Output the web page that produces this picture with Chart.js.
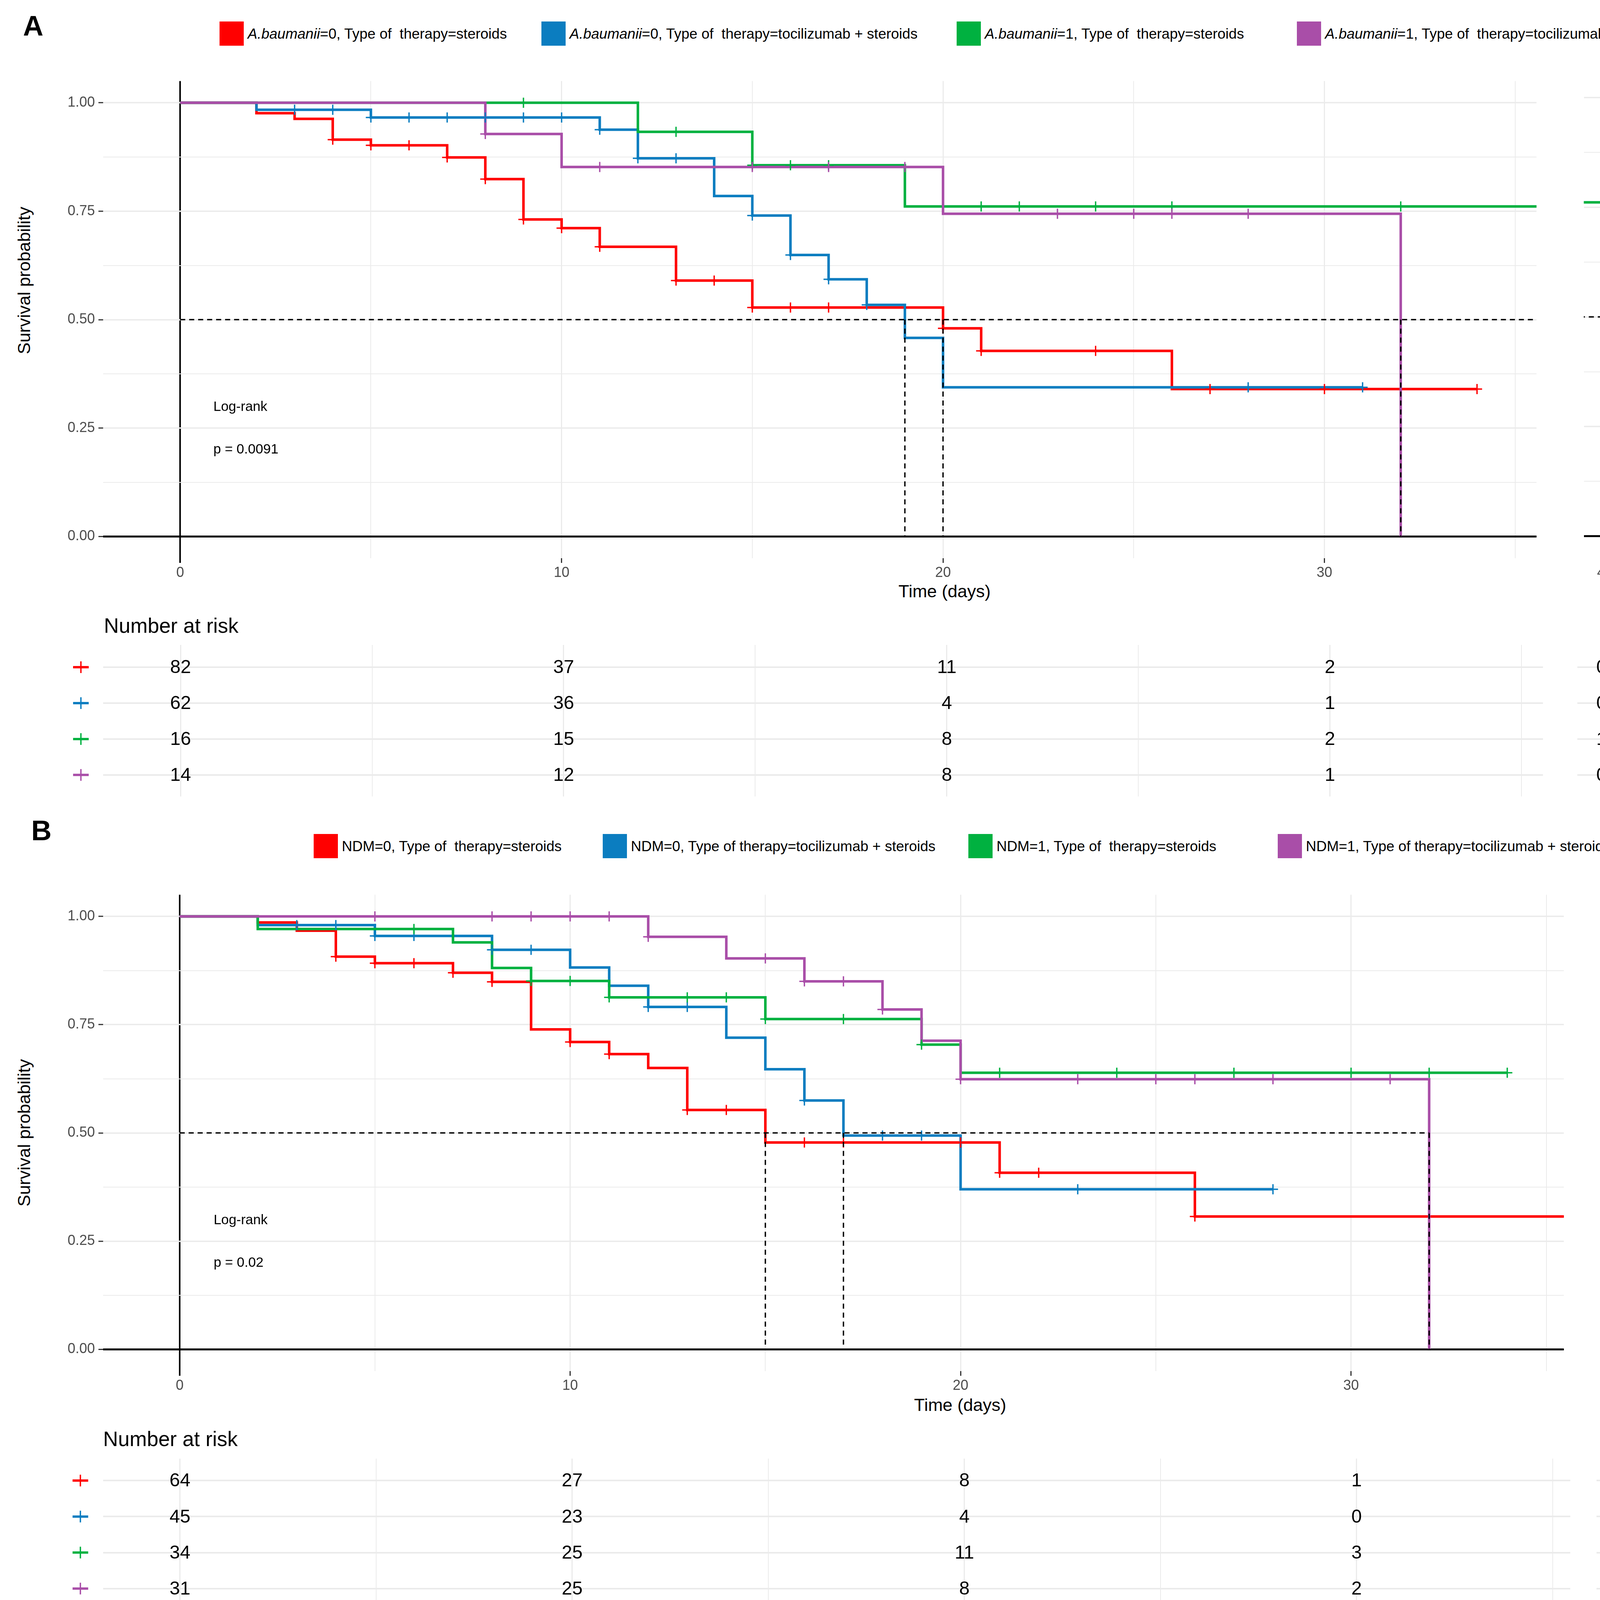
<!DOCTYPE html>
<html lang="en">
<head>
<meta charset="UTF-8">
<title>Kaplan-Meier survival curves</title>
<script src="https://cdn.jsdelivr.net/npm/chart.js"></script>
<style>
  body { margin: 0; background: #fff; width: 4342px; height: 4157px; position: relative; overflow: hidden;
         font-family: "Liberation Sans", Arial, sans-serif; color: #000; }
  canvas { position: absolute; }
  .t { position: absolute; white-space: pre; line-height: 1; transform: translateY(-50%); }
  .c { position: absolute; white-space: pre; line-height: 1; transform: translate(-50%, -50%); }
  .tag { font-size: 72px; font-weight: bold; }
  .key { position: absolute; width: 62px; height: 62px; }
  .lt { font-size: 37px; }
  .ytitle { font-size: 45px; transform: translate(-50%, -50%) rotate(-90deg); }
  .xtitle { font-size: 45px; }
  .risk { font-size: 53px; }
</style>
</head>
<body>
  <!-- panel A texts -->
  <div class="t tag" style="left:59px;top:66px">A</div>
  <div class="key" style="left:562px;top:55px;background:#ff0000"></div>
  <div class="t lt" style="left:634px;top:86px"><i>A.baumanii</i>=0, Type of  therapy=steroids</div>
  <div class="key" style="left:1386px;top:55px;background:#0b7dc0"></div>
  <div class="t lt" style="left:1458px;top:86px"><i>A.baumanii</i>=0, Type of  therapy=tocilizumab + steroids</div>
  <div class="key" style="left:2449px;top:55px;background:#00b140"></div>
  <div class="t lt" style="left:2521px;top:86px"><i>A.baumanii</i>=1, Type of  therapy=steroids</div>
  <div class="key" style="left:3320px;top:55px;background:#a94ea8"></div>
  <div class="t lt" style="left:3392px;top:86px"><i>A.baumanii</i>=1, Type of  therapy=tocilizumab + steroids</div>
  <div class="c ytitle" style="left:61px;top:718px">Survival probability</div>
  <div class="c xtitle" style="left:2418px;top:1513px">Time (days)</div>
  <div class="t risk" style="left:266px;top:1601px">Number at risk</div>

  <!-- panel B texts -->
  <div class="t tag" style="left:80px;top:2126px">B</div>
  <div class="key" style="left:803px;top:2135px;background:#ff0000"></div>
  <div class="t lt" style="left:875px;top:2166px">NDM=0, Type of  therapy=steroids</div>
  <div class="key" style="left:1543px;top:2135px;background:#0b7dc0"></div>
  <div class="t lt" style="left:1615px;top:2166px">NDM=0, Type of therapy=tocilizumab + steroids</div>
  <div class="key" style="left:2479px;top:2135px;background:#00b140"></div>
  <div class="t lt" style="left:2551px;top:2166px">NDM=1, Type of  therapy=steroids</div>
  <div class="key" style="left:3271px;top:2135px;background:#a94ea8"></div>
  <div class="t lt" style="left:3343px;top:2166px">NDM=1, Type of therapy=tocilizumab + steroids</div>
  <div class="c ytitle" style="left:61px;top:2900px">Survival probability</div>
  <div class="c xtitle" style="left:2458px;top:3596px">Time (days)</div>
  <div class="t risk" style="left:264px;top:3683px">Number at risk</div>

<script>
// axis ticks
const xGridTicks = [0, 5, 10, 15, 20, 25, 30, 35, 40];
const xLabelTicks = [0, 10, 20, 30, 40];
const yGridTicks = [0, 0.125, 0.25, 0.375, 0.5, 0.625, 0.75, 0.875, 1];
const yLabelTicks = [0, 0.25, 0.5, 0.75, 1];

const groupColors = ['#ff0000', '#0b7dc0', '#00b140', '#a94ea8'];

// Panel A: A.baumanii x therapy
const a0sTime = [0, 2, 3, 4, 5, 7, 8, 9, 10, 11, 13, 15, 20, 21, 26, 34];
const a0sSurv = [1, 0.976, 0.963, 0.915, 0.902, 0.874, 0.824, 0.731, 0.711, 0.668, 0.590, 0.528, 0.480, 0.428, 0.340, 0.340];
const a0sCens = [4, 5, 6, 7, 8, 9, 10, 11, 13, 14, 15, 16, 17, 20, 21, 24, 27, 30, 34];

const a0tTime = [0, 2, 5, 11, 12, 14, 15, 16, 17, 18, 19, 20, 31];
const a0tSurv = [1, 0.984, 0.966, 0.938, 0.872, 0.785, 0.740, 0.649, 0.593, 0.534, 0.458, 0.344, 0.344];
const a0tCens = [3, 4, 5, 6, 7, 8, 9, 10, 11, 12, 13, 15, 16, 17, 18, 28, 31];

const a1sTime = [0, 12, 15, 19, 42];
const a1sSurv = [1, 0.933, 0.856, 0.761, 0.761];
const a1sCens = [9, 13, 15, 16, 17, 21, 22, 24, 26, 32];

const a1tTime = [0, 8, 10, 20, 32];
const a1tSurv = [1, 0.928, 0.852, 0.744, 0];
const a1tCens = [8, 11, 15, 17, 19, 23, 25, 26, 28];

const aMedians = [19, 20, 32];
const aMedianEnd = 42;
const aPval = ['Log-rank', 'p = 0.0091'];

// Panel B: NDM x therapy
const b0sTime = [0, 2, 3, 4, 5, 7, 8, 9, 10, 11, 12, 13, 15, 21, 26, 42];
const b0sSurv = [1, 0.986, 0.967, 0.907, 0.892, 0.870, 0.849, 0.739, 0.710, 0.682, 0.650, 0.553, 0.478, 0.408, 0.307, 0.307];
const b0sCens = [4, 5, 6, 7, 8, 10, 11, 13, 14, 16, 17, 20, 21, 22, 26];

const b0tTime = [0, 2, 5, 8, 10, 11, 12, 14, 15, 16, 17, 20, 28];
const b0tSurv = [1, 0.980, 0.955, 0.923, 0.882, 0.840, 0.791, 0.720, 0.647, 0.575, 0.494, 0.370, 0.370];
const b0tCens = [3, 4, 5, 6, 8, 9, 12, 13, 16, 18, 19, 23, 28];

const b1sTime = [0, 2, 7, 8, 9, 11, 15, 19, 20, 34];
const b1sSurv = [1, 0.971, 0.940, 0.881, 0.851, 0.813, 0.763, 0.704, 0.639, 0.639];
const b1sCens = [6, 9, 10, 11, 13, 14, 15, 17, 19, 21, 24, 27, 30, 32, 34];

const b1tTime = [0, 12, 14, 16, 18, 19, 20, 32];
const b1tSurv = [1, 0.953, 0.903, 0.850, 0.785, 0.713, 0.624, 0];
const b1tCens = [5, 8, 9, 10, 11, 12, 15, 16, 17, 18, 20, 23, 25, 26, 28, 31];

const bMedians = [15, 17, 32];
const bMedianEnd = 32;
const bPval = ['Log-rank', 'p = 0.02'];

// numbers at risk
const riskTimes = [0, 10, 20, 30, 40];
const aRisk0s = [82, 37, 11, 2, 0];
const aRisk0t = [62, 36, 4, 1, 0];
const aRisk1s = [16, 15, 8, 2, 1];
const aRisk1t = [14, 12, 8, 1, 0];
const bRisk0s = [64, 27, 8, 1, 1];
const bRisk0t = [45, 23, 4, 0, 0];
const bRisk1s = [34, 25, 11, 3, 0];
const bRisk1t = [31, 25, 8, 2, 0];

const FONT = '"Liberation Sans", Arial, sans-serif';
Chart.defaults.font.family = FONT;
const CLEAR = 'rgba(0,0,0,0)';

function survAt(time, surv, t) {
  let s = surv[0];
  time.forEach((tt, i) => { if (tt <= t) s = surv[i]; });
  return s;
}

function place(box) {
  const c = document.createElement('canvas');
  c.width = box.w; c.height = box.h;
  c.style.left = box.l + 'px'; c.style.top = box.t + 'px';
  c.style.width = box.w + 'px'; c.style.height = box.h + 'px';
  document.body.appendChild(c);
  return c;
}

function xScale(min, max, withAxis) {
  return {
    type: 'linear', min: min, max: max,
    afterBuildTicks: s => { s.ticks = xGridTicks.filter(v => v >= min && v <= max).map(v => ({ value: v })); },
    afterFit: s => { s.height = withAxis ? 51 : 0; },
    border: { display: false },
    grid: {
      color: c => (withAxis && c.tick.value === 0) ? '#000' : '#ebebeb',
      lineWidth: c => (withAxis && c.tick.value === 0) ? 4 : (c.tick.value % 10 === 0 ? 3 : 2),
      drawTicks: withAxis,
      tickLength: 12,
      tickWidth: c => c.tick.value === 0 ? 4 : 3,
      tickColor: c => c.tick.value === 0 ? '#000' : (xLabelTicks.includes(c.tick.value) ? '#333' : CLEAR)
    },
    ticks: {
      display: withAxis, autoSkip: false, maxRotation: 0, padding: 4,
      color: '#4d4d4d', font: { size: 36 },
      callback: v => xLabelTicks.includes(v) ? String(v) : ''
    }
  };
}

function yScale(withLabels) {
  return {
    min: -0.05, max: 1.05,
    afterBuildTicks: s => { s.ticks = yGridTicks.map(v => ({ value: v })); },
    afterFit: s => { s.width = withLabels ? 264 : 0; },
    border: { display: false },
    grid: {
      color: c => c.tick.value === 0 ? '#000' : '#ebebeb',
      lineWidth: c => c.tick.value === 0 ? 5 : (yLabelTicks.includes(c.tick.value) ? 3.5 : 2),
      drawTicks: withLabels,
      tickLength: 12, tickWidth: 3,
      tickColor: c => yLabelTicks.includes(c.tick.value) ? '#333' : CLEAR
    },
    ticks: {
      display: withLabels, autoSkip: false, padding: 9,
      color: '#4d4d4d', font: { size: 36 },
      callback: v => yLabelTicks.includes(v) ? v.toFixed(2) : ''
    }
  };
}

function dashSet(points) {
  return { data: points, borderColor: '#000', borderWidth: 3.5, borderDash: [13, 10], pointRadius: 0, fill: false };
}

function pvalPlugin(lines) {
  return {
    id: 'pval',
    afterDatasetsDraw(chart) {
      const { ctx, scales: { x, y } } = chart;
      ctx.save();
      ctx.font = '35px ' + FONT;
      ctx.fillStyle = '#000';
      ctx.textAlign = 'left';
      ctx.textBaseline = 'middle';
      ctx.fillText(lines[0], x.getPixelForValue(0.87), y.getPixelForValue(0.298));
      ctx.fillText(lines[1], x.getPixelForValue(0.87), y.getPixelForValue(0.2));
      ctx.restore();
    }
  };
}

function kmChart(box, min, max, withLabels, curves, medians, medianEnd, pval) {
  const datasets = [];
  medians.forEach(m => datasets.push(dashSet([{ x: m, y: 0.5 }, { x: m, y: 0 }])));
  datasets.push(dashSet([{ x: 0, y: 0.5 }, { x: medianEnd, y: 0.5 }]));
  curves.slice().reverse().forEach(cv => datasets.push({
    data: cv.cens.map(t => ({ x: t, y: survAt(cv.time, cv.surv, t) })),
    showLine: false, pointStyle: 'cross', pointRadius: 13, pointBorderWidth: 3.5,
    borderColor: cv.color, pointBorderColor: cv.color
  }));
  curves.slice().reverse().forEach(cv => datasets.push({
    data: cv.time.map((t, i) => ({ x: t, y: cv.surv[i] })),
    stepped: 'before', borderColor: cv.color, borderWidth: 6.5, pointRadius: 0, fill: false,
    borderJoinStyle: 'miter', borderCapStyle: 'butt'
  }));
  new Chart(place(box), {
    type: 'line',
    data: { datasets: datasets },
    options: {
      responsive: false, devicePixelRatio: 1, animation: false, events: [],
      layout: { padding: 0 },
      plugins: { legend: { display: false }, tooltip: { enabled: false } },
      scales: { x: xScale(min, max, true), y: yScale(withLabels) }
    },
    plugins: pval ? [pvalPlugin(pval)] : []
  });
}

function riskChart(box, min, max, withLabels, rows, rowMin, rowMax) {
  const numbers = {
    id: 'riskNumbers',
    afterDatasetsDraw(chart) {
      const { ctx, scales: { x, y } } = chart;
      ctx.save();
      // group markers left of the table
      if (withLabels) {
        rows.forEach((r, i) => {
          const px = x.getPixelForValue(min - 0.58), py = y.getPixelForValue(i + 1);
          ctx.strokeStyle = groupColors[i];
          ctx.lineWidth = 6;
          ctx.beginPath(); ctx.moveTo(px - 20, py); ctx.lineTo(px + 20, py); ctx.stroke();
          ctx.lineWidth = 3.5;
          ctx.beginPath(); ctx.moveTo(px, py - 15); ctx.lineTo(px, py + 15); ctx.stroke();
        });
      }
      ctx.font = '48px ' + FONT;
      ctx.fillStyle = '#000';
      ctx.textAlign = 'center';
      ctx.textBaseline = 'middle';
      rows.forEach((r, i) => r.forEach((n, j) => {
        const t = riskTimes[j];
        if (t < x.min || t > x.max) return;
        ctx.fillText(String(n), x.getPixelForValue(t), y.getPixelForValue(i + 1) + 2);
      }));
      ctx.restore();
    }
  };
  new Chart(place(box), {
    type: 'line',
    data: { datasets: [] },
    options: {
      responsive: false, devicePixelRatio: 1, animation: false, events: [],
      layout: { padding: 0 },
      plugins: { legend: { display: false }, tooltip: { enabled: false } },
      scales: {
        x: xScale(min, max, false),
        y: {
          reverse: true, min: rowMin, max: rowMax,
          afterBuildTicks: s => { s.ticks = rows.map((r, i) => ({ value: i + 1 })); },
          afterFit: s => { s.width = withLabels ? 264 : 0; },
          border: { display: false },
          grid: { color: '#ebebeb', lineWidth: 4, drawTicks: false },
          ticks: { display: false }
        }
      }
    },
    plugins: [numbers]
  });
}

const curvesA = [
  { time: a0sTime, surv: a0sSurv, cens: a0sCens, color: groupColors[0] },
  { time: a0tTime, surv: a0tSurv, cens: a0tCens, color: groupColors[1] },
  { time: a1sTime, surv: a1sSurv, cens: a1sCens, color: groupColors[2] },
  { time: a1tTime, surv: a1tSurv, cens: a1tCens, color: groupColors[3] }
];
const curvesB = [
  { time: b0sTime, surv: b0sSurv, cens: b0sCens, color: groupColors[0] },
  { time: b0tTime, surv: b0tSurv, cens: b0tCens, color: groupColors[1] },
  { time: b1sTime, surv: b1sSurv, cens: b1sCens, color: groupColors[2] },
  { time: b1tTime, surv: b1tSurv, cens: b1tCens, color: groupColors[3] }
];

// panel A
kmChart({ l: 0, t: 177, w: 3950, h: 1303 }, -2.02, 35.56, true, curvesA, aMedians, aMedianEnd, aPval);
kmChart({ l: 4038, t: 177, w: 258, h: 1303 }, 39.37, 42.0, false, curvesA, aMedians, aMedianEnd, null);
riskChart({ l: 0, t: 1651, w: 3950, h: 388 }, -2.02, 35.56, true, [aRisk0s, aRisk0t, aRisk1s, aRisk1t], 0.38, 4.6);
riskChart({ l: 4038, t: 1651, w: 258, h: 388 }, 39.37, 42.0, false, [aRisk0s, aRisk0t, aRisk1s, aRisk1t], 0.38, 4.6);

// panel B
kmChart({ l: 0, t: 2260, w: 4020, h: 1301 }, -1.96, 35.45, true, curvesB, bMedians, bMedianEnd, bPval);
kmChart({ l: 4087, t: 2260, w: 238, h: 1301 }, 39.41, 41.78, false, curvesB, bMedians, bMedianEnd, null);
riskChart({ l: 0, t: 3734, w: 4020, h: 388 }, -1.96, 35.45, true, [bRisk0s, bRisk0t, bRisk1s, bRisk1t], 0.39, 4.6);
riskChart({ l: 4087, t: 3734, w: 238, h: 388 }, 39.41, 41.78, false, [bRisk0s, bRisk0t, bRisk1s, bRisk1t], 0.39, 4.6);
</script>
</body>
</html>
